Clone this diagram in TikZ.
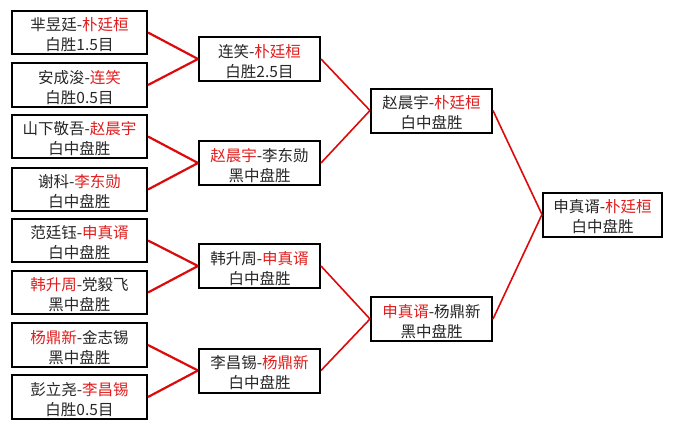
\documentclass[tikz,border=0pt]{standalone}
\usepackage{fontspec}
\setmainfont{Noto Sans CJK SC}
\definecolor{wred}{RGB}{225,30,30}
\definecolor{lred}{RGB}{220,10,10}
\newcommand{\rn}[1]{\textcolor{wred}{#1}}
\newcommand{\topstrut}{\rule{0pt}{17.5pt}}
\begin{document}
\begin{tikzpicture}[x=1pt,y=-1pt,
  box/.style={draw=black,line width=2pt,fill=white,align=center,inner sep=0pt,
    font=\fontsize{15.5pt}{20pt}\selectfont,text=black!85},
  lbox/.style={box,minimum width=135pt,minimum height=43.5pt},
  mbox/.style={box,minimum width=121pt,minimum height=44pt},
  conn/.style={draw=lred,line width=2.2pt},
  conn2/.style={draw=lred,line width=1.6pt}]
\fill[white] (0,0) rectangle (673,429);
\useasboundingbox (0,0) rectangle (673,429);
% first round
\node[lbox] (b1) at (79.5,32.5) {\topstrut 芈昱廷-\rn{朴廷桓}\\白胜1.5目};
\node[lbox] (b2) at (79.5,85) {\topstrut 安成浚-\rn{连笑}\\白胜0.5目};
\node[lbox] (b3) at (79.5,136.5) {\topstrut 山下敬吾-\rn{赵晨宇}\\白中盘胜};
\node[lbox] (b4) at (79.5,189.5) {\topstrut 谢科-\rn{李东勋}\\白中盘胜};
\node[lbox] (b5) at (79.5,240.5) {\topstrut 范廷钰-\rn{申真谞}\\白中盘胜};
\node[lbox] (b6) at (79.5,292.5) {\topstrut \rn{韩升周}-党毅飞\\黑中盘胜};
\node[lbox] (b7) at (79.5,345) {\topstrut \rn{杨鼎新}-金志锡\\黑中盘胜};
\node[lbox] (b8) at (79.5,397) {\topstrut 彭立尧-\rn{李昌锡}\\白胜0.5目};
% second round
\node[mbox] (qA) at (259.5,59) {\topstrut 连笑-\rn{朴廷桓}\\白胜2.5目};
\node[mbox] (qB) at (259.5,163) {\topstrut \rn{赵晨宇}-李东勋\\黑中盘胜};
\node[mbox] (qC) at (259.5,266) {\topstrut 韩升周-\rn{申真谞}\\白中盘胜};
\node[mbox] (qD) at (259.5,370.5) {\topstrut 李昌锡-\rn{杨鼎新}\\白中盘胜};
% semi
\node[mbox] (sE) at (431.5,110.5) {\topstrut 赵晨宇-\rn{朴廷桓}\\白中盘胜};
\node[mbox] (sF) at (431.5,319) {\topstrut \rn{申真谞}-杨鼎新\\黑中盘胜};
% final
\node[mbox,minimum width=119pt] (fin) at (602.5,214.5) {\topstrut 申真谞-\rn{朴廷桓}\\白中盘胜};
% connectors
\draw[conn] (b1.east) -- (qA.west);
\draw[conn] (b2.east) -- (qA.west);
\draw[conn] (b3.east) -- (qB.west);
\draw[conn] (b4.east) -- (qB.west);
\draw[conn] (b5.east) -- (qC.west);
\draw[conn] (b6.east) -- (qC.west);
\draw[conn] (b7.east) -- (qD.west);
\draw[conn] (b8.east) -- (qD.west);
\draw[conn2] (qA.east) -- (sE.west);
\draw[conn2] (qB.east) -- (sE.west);
\draw[conn2] (qC.east) -- (sF.west);
\draw[conn2] (qD.east) -- (sF.west);
\draw[conn2] (sE.east) -- (fin.west);
\draw[conn2] (sF.east) -- (fin.west);
\end{tikzpicture}
\end{document}
